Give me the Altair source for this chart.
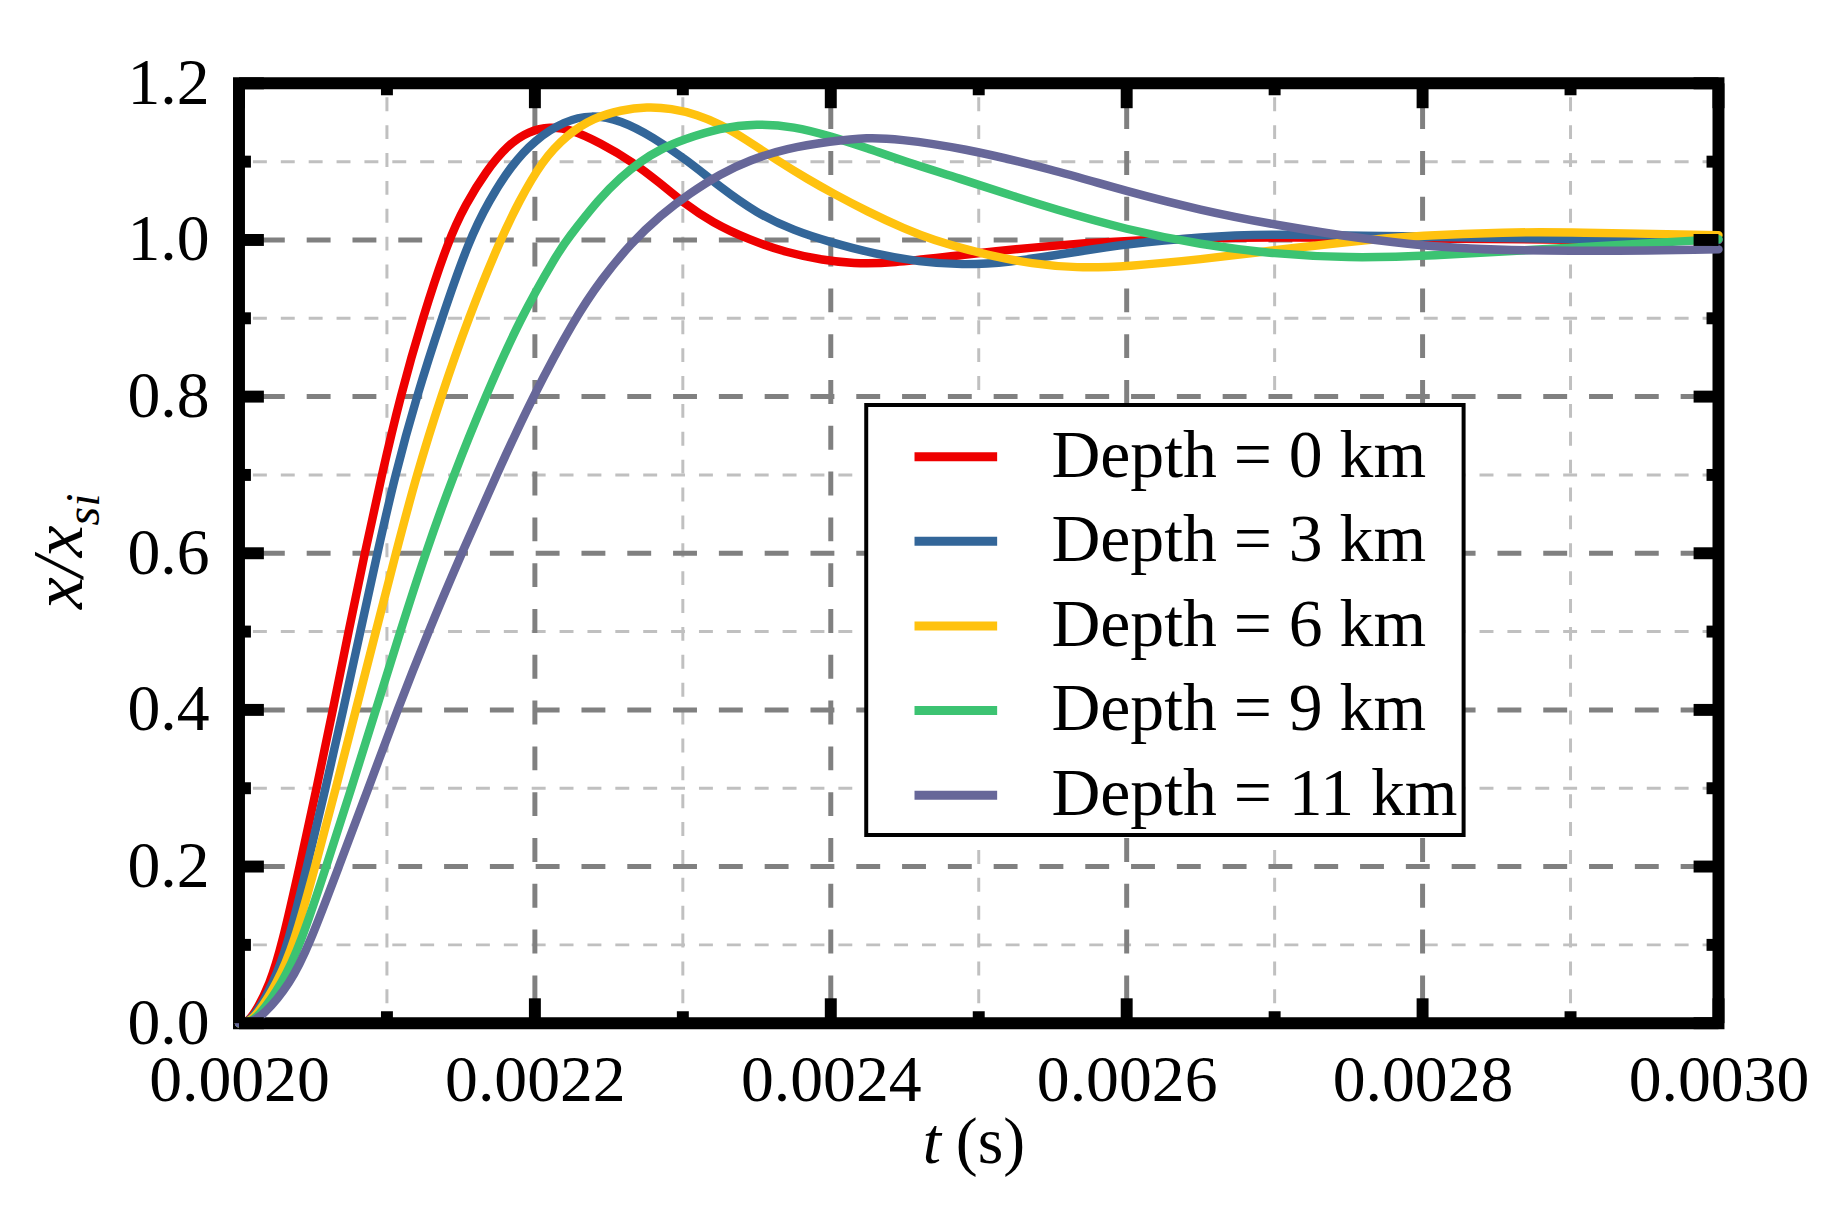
import altair as alt
import pandas as pd

# ---------------- data ----------------
series_names = ["Depth = 0 km", "Depth = 3 km", "Depth = 6 km", "Depth = 9 km", "Depth = 11 km"]
series_colors = ["#ee0000", "#336699", "#ffc20f", "#3cc372", "#676799"]

t_0km = [0.002, 0.002005, 0.00201, 0.002021, 0.002029, 0.002041, 0.0020525, 0.0020635, 0.002074, 0.002085,
         0.0020965, 0.002109, 0.002124, 0.0021415, 0.002153, 0.002167, 0.002182, 0.002196, 0.00221, 0.002225,
         0.002244, 0.002266, 0.002285, 0.0023, 0.00232, 0.002345, 0.00237, 0.002395, 0.002415, 0.00244,
         0.002488, 0.00255, 0.0026, 0.0027, 0.0028, 0.0029, 0.003]
x_0km = [0.0, 0.001, 0.01, 0.05, 0.1, 0.2, 0.3, 0.4, 0.5, 0.6,
         0.7, 0.8, 0.9, 1.0, 1.045, 1.088, 1.122, 1.139, 1.145, 1.141,
         1.124, 1.1, 1.072, 1.048, 1.022, 1.0, 0.984, 0.974, 0.97, 0.97,
         0.981, 0.993, 1.0, 1.004, 1.002, 1.0, 1.0]

t_3km = [0.002, 0.002005, 0.002011, 0.002023, 0.002033, 0.002046, 0.0020585, 0.0020705, 0.002082, 0.0020935,
         0.0021055, 0.00212, 0.002137, 0.0021555, 0.002169, 0.002184, 0.0022, 0.00222, 0.002238, 0.002258,
         0.00228, 0.002302, 0.002325, 0.00235, 0.002375, 0.0024, 0.00243, 0.00246, 0.002488, 0.00252,
         0.00256, 0.0026, 0.00265, 0.0027, 0.0028, 0.0029, 0.003]
x_3km = [0.0, 0.001, 0.01, 0.05, 0.1, 0.2, 0.3, 0.4, 0.5, 0.6,
         0.7, 0.8, 0.9, 1.0, 1.05, 1.095, 1.128, 1.152, 1.16, 1.153,
         1.131, 1.103, 1.068, 1.034, 1.012, 0.997, 0.982, 0.972, 0.968, 0.971,
         0.983, 0.995, 1.004, 1.008, 1.004, 1.001, 1.0]

t_6km = [0.002, 0.002006, 0.002012, 0.0020255, 0.002037, 0.0020515, 0.0020655, 0.002079, 0.0020925, 0.002106,
         0.00212, 0.0021365, 0.002155, 0.0021765, 0.0021895, 0.0022045, 0.002222, 0.00224, 0.002258, 0.002276,
         0.002292, 0.00231, 0.002325, 0.002343, 0.002365, 0.002385, 0.0024, 0.002425, 0.00245, 0.002471,
         0.002488, 0.00251, 0.002535, 0.002566, 0.0026, 0.00265, 0.0027, 0.00275, 0.0028, 0.002856,
         0.0029, 0.003]
x_6km = [0.0, 0.001, 0.01, 0.05, 0.1, 0.2, 0.3, 0.4, 0.5, 0.6,
         0.7, 0.8, 0.9, 1.0, 1.05, 1.1, 1.135, 1.156, 1.166, 1.17,
         1.168, 1.16, 1.148, 1.128, 1.1, 1.077, 1.061, 1.036, 1.014, 0.999,
         0.99, 0.979, 0.97, 0.964, 0.966, 0.975, 0.987, 0.998, 1.006, 1.01,
         1.01, 1.006]

t_9km = [0.002, 0.002007, 0.002014, 0.002029, 0.0020415, 0.002059, 0.002076, 0.0020925, 0.002109, 0.002126,
         0.002145, 0.0021665, 0.00219, 0.002216, 0.0022215, 0.002244, 0.002258, 0.002271, 0.002285, 0.0023,
         0.002325, 0.00235, 0.002375, 0.0024, 0.002425, 0.00245, 0.002488, 0.00252, 0.00255, 0.0026,
         0.00265, 0.0027, 0.00275, 0.0028, 0.0029, 0.003]
x_9km = [0.0, 0.001, 0.01, 0.05, 0.1, 0.2, 0.3, 0.4, 0.5, 0.6,
         0.7, 0.8, 0.9, 0.985, 1.0, 1.054, 1.08, 1.1, 1.116, 1.128,
         1.143, 1.1485, 1.145, 1.1325, 1.117, 1.1, 1.078, 1.058, 1.04, 1.013,
         0.994, 0.982, 0.977, 0.979, 0.99, 1.001]

t_11km = [0.002, 0.002008, 0.0020165, 0.0020345, 0.0020475, 0.0020675, 0.0020875, 0.002107, 0.002128, 0.0021505,
          0.002174, 0.0021985, 0.002227, 0.002245, 0.002265, 0.002285, 0.002305, 0.002325, 0.002345, 0.00237,
          0.0024, 0.002425, 0.002445, 0.002488, 0.00255, 0.0026, 0.00265, 0.0027, 0.0028, 0.0029, 0.003]
x_11km = [0.0, 0.001, 0.01, 0.05, 0.1, 0.2, 0.3, 0.4, 0.5, 0.6,
          0.7, 0.8, 0.9, 0.95, 0.996, 1.032, 1.06, 1.084, 1.102, 1.117,
          1.126, 1.131, 1.129, 1.118, 1.09, 1.062, 1.038, 1.019, 0.989, 0.985, 0.988]

x_major = [0.0020, 0.0022, 0.0024, 0.0026, 0.0028, 0.0030]
x_minor = [0.0021, 0.0023, 0.0025, 0.0027, 0.0029]
y_major = [0.0, 0.2, 0.4, 0.6, 0.8, 1.0, 1.2]
y_minor = [0.1, 0.3, 0.5, 0.7, 0.9, 1.1]
x_grid_major = [0.0022, 0.0024, 0.0026, 0.0028]
y_grid_major = [0.2, 0.4, 0.6, 0.8, 1.0]

# ---------------- tables ----------------
all_t = [t_0km, t_3km, t_6km, t_9km, t_11km]
all_x = [x_0km, x_3km, x_6km, x_9km, x_11km]
rows = []
for name, ts, xs in zip(series_names, all_t, all_x):
    for i, (a, b) in enumerate(zip(ts, xs)):
        rows.append({"t": a, "v": b, "series": name, "i": i})
df = pd.DataFrame(rows)

W, H = 1486, 944
FONT = "Liberation Serif"
xscale = alt.Scale(domain=[0.002, 0.003], nice=False, zero=False)
yscale = alt.Scale(domain=[0.0, 1.2], nice=False, zero=False)
xaxis = alt.Axis(values=x_major, format=".4f", title=None, labelPadding=26, labelLimit=0)
yaxis = alt.Axis(values=y_major, format=".1f", title=None, labelPadding=30, labelLimit=0)

lines = alt.Chart(df).mark_line(strokeWidth=8.5, interpolate="basis", strokeCap="round").encode(
    x=alt.X("t:Q", scale=xscale, axis=xaxis),
    y=alt.Y("v:Q", scale=yscale, axis=yaxis),
    color=alt.Color("series:N",
                    scale=alt.Scale(domain=series_names, range=series_colors),
                    legend=alt.Legend(title=None, orient="none", legendX=630, legendY=323,
                                      symbolType="stroke", symbolSize=6889, symbolStrokeWidth=9,
                                      symbolOffset=38, labelOffset=50, rowPadding=5, padding=6,
                                      labelFont=FONT, labelFontSize=68, labelColor="black",
                                      labelLimit=0, fillColor="white", strokeColor="black")),
    order="i:Q",
)

def vrules(vals, y0, y1, color, width, dash=None, offset=0):
    kw = dict(color=color, strokeWidth=width)
    if dash:
        kw["strokeDash"] = dash
        kw["strokeDashOffset"] = offset
    return alt.Chart(pd.DataFrame({"t": vals})).mark_rule(**kw).encode(
        x=alt.X("t:Q", scale=xscale, axis=xaxis), y=alt.value(y0), y2=alt.value(y1))

def hrules(vals, x0, x1, color, width, dash=None, offset=0):
    kw = dict(color=color, strokeWidth=width)
    if dash:
        kw["strokeDash"] = dash
        kw["strokeDashOffset"] = offset
    return alt.Chart(pd.DataFrame({"v": vals})).mark_rule(**kw).encode(
        y=alt.Y("v:Q", scale=yscale, axis=yaxis), x=alt.value(x0), x2=alt.value(x1))

LIGHT, DARK = "#c0c0c0", "#808080"
grid = [
    vrules(x_minor, 6, H - 6, LIGHT, 3, [14, 14], 20),
    hrules(y_minor, 6, W - 6, LIGHT, 3, [14, 14], 20),
    vrules(x_grid_major, 6, H - 6, DARK, 5, [24, 22], 30),
    hrules(y_grid_major, 6, W - 6, DARK, 5, [24, 22], 30),
]

ticks = [
    vrules(x_major, H, H - 25, "black", 12),
    vrules(x_major, 0, 25, "black", 12),
    vrules(x_minor, H, H - 12, "black", 12),
    vrules(x_minor, 0, 12, "black", 12),
    hrules(y_major, 0, 25, "black", 12),
    hrules(y_major, W, W - 25, "black", 12),
    hrules(y_minor, 0, 12, "black", 12),
    hrules(y_minor, W, W - 12, "black", 12),
]

def label(text, x, y, size, style="normal", angle=0, align="left"):
    return alt.Chart(pd.DataFrame({"s": [text]})).mark_text(
        font=FONT, fontSize=size, fontStyle=style, angle=angle, align=align,
        baseline="alphabetic", color="black").encode(
        text="s:N", x=alt.value(x), y=alt.value(y))

titles = [
    label("x/x", -158, 444, 72, "italic", 270, "right"),
    label("si", -141, 444, 48, "italic", 270, "left"),
    label("t", 705, 1084, 66, "italic", 0, "right"),
    label("(s)", 720, 1084, 66, "normal", 0, "left"),
]

chart = alt.layer(*grid, lines, *ticks, *titles).properties(
    width=W, height=H,
    padding={"left": 232, "top": 73, "right": 110, "bottom": 191},
    autosize=alt.AutoSizeParams(type="none"),
    background="white",
).configure_view(
    stroke="black", strokeWidth=12, fill="white"
).configure_axis(
    domain=False, ticks=False, grid=False, labelFont=FONT, labelFontSize=66,
    labelColor="black", labelOverlap=False, labelFlush=False, labelBound=False,
    labelLimit=0
).configure_legend(
    strokeWidth=4
)

chart.save("out.html", embed_options={"renderer": "svg", "actions": False})
